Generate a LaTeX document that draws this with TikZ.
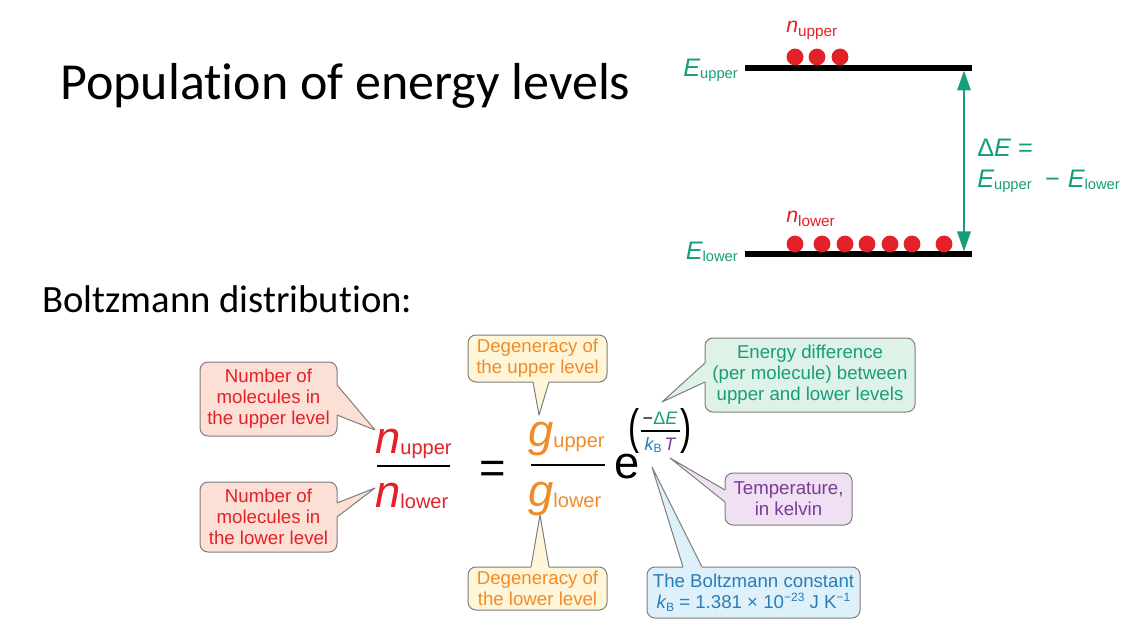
\documentclass[tikz,border=0pt]{standalone}
\usepackage{fontspec}
\usepackage{graphicx}
\setmainfont{Liberation Sans}
\newfontfamily\calib[Ligatures=NoCommon]{Carlito}
\usetikzlibrary{arrows.meta}
\definecolor{tred}{RGB}{228,32,40}
\definecolor{tgreen}{RGB}{22,158,122}
\definecolor{torange}{RGB}{240,140,40}
\definecolor{tpurple}{RGB}{120,60,150}
\definecolor{tblue}{RGB}{40,125,185}
\definecolor{fpink}{RGB}{252,224,214}
\definecolor{fyellow}{RGB}{255,246,218}
\definecolor{fgreen}{RGB}{222,242,231}
\definecolor{fpurple}{RGB}{240,224,243}
\definecolor{fblue}{RGB}{222,241,251}
\definecolor{bgray}{RGB}{125,125,125}
\newcommand{\fsz}[2]{\fontsize{#1}{#2}\selectfont\ignorespaces}
\newcommand{\pxl}{0.75pt}
\begin{document}
\begin{tikzpicture}[x=0.75pt,y=-0.75pt,
  every node/.style={inner sep=0pt},
  callout/.style={draw=bgray, line width=0.75pt, rounded corners=6pt, align=center, font=\fsz{14}{15.75}},
  bline/.style={draw=bgray, line width=0.75pt, line join=round},
  lvl/.style={line width=3.8pt},
  gtip/.tip={Triangle[length=15pt,width=10pt]}]
\fill[white] (0,0) rectangle (1130,634);
\useasboundingbox (0,0) rectangle (1130,634);

% titles
\node[anchor=base west] (title) at (60,100) {\calib\fsz{39}{39}Population of energy levels};
\node[anchor=base west] (bd) at (42,312) {\calib\fsz{29}{29}Boltzmann distribution:};

% energy level diagram
\draw[lvl] (745,68) -- (972,68);
\draw[lvl] (745,254) -- (972,254);
\node[anchor=base east, text=tgreen] (Eu) at (738,77) {\fsz{19}{19}\itshape E\upshape\raisebox{-1pt}{\fsz{11}{11}upper}};
\node[anchor=base east, text=tgreen] (El) at (738,260) {\fsz{19}{19}\itshape E\upshape\raisebox{-1pt}{\fsz{11}{11}lower}};
\foreach \x in {795,817,840} \fill[tred] (\x,57) circle[radius=6.3pt];
\foreach \x in {795,822,845,867,890,912,944} \fill[tred] (\x,244) circle[radius=6.3pt];
\node[anchor=base west, text=tred] (nu) at (786,33) {\fsz{16}{16}\itshape n\upshape\raisebox{-2.5pt}{\fsz{11.5}{11.5}upper}};
\node[anchor=base west, text=tred] (nl) at (786,223) {\fsz{16}{16}\itshape n\upshape\raisebox{-2.5pt}{\fsz{11.5}{11.5}lower}};
\coordinate (aT) at (964,70.5);
\coordinate (aB) at (964,251.5);
\draw[tgreen, line width=1.6pt, gtip-gtip] (aT) -- (aB);
\node[anchor=base west, text=tgreen] (dE) at (977,157) {\fsz{19}{19}Δ\itshape E\upshape\ =};
\node[anchor=base west, text=tgreen] (dE2) at (977,188) {\fsz{19}{19}\itshape E\upshape\raisebox{-1pt}{\fsz{11}{11}upper}\hspace{10pt}−\hspace{6pt}\itshape E\upshape\raisebox{-1pt}{\fsz{11}{11}lower}};

% Boltzmann equation
\node[anchor=base west, text=tred] (nU) at (375,453) {\fsz{34}{34}\itshape n\upshape\raisebox{-1pt}{\fsz{15}{15}upper}};
\node[anchor=base west, text=tred] (nL) at (375,507) {\fsz{34}{34}\itshape n\upshape\raisebox{-1pt}{\fsz{15}{15}lower}};
\draw[line width=1.5pt] (377,466) -- (450,466);
\node[anchor=base west] (eq) at (479,483) {\fsz{34}{34}=};
\node[anchor=base west, text=torange] (gU) at (528,446) {\fsz{34}{34}\itshape g\upshape\raisebox{-1pt}{\fsz{15}{15}upper}};
\node[anchor=base west, text=torange] (gL) at (528,506) {\fsz{34}{34}\itshape g\upshape\raisebox{-1pt}{\fsz{15}{15}lower}};
\draw[line width=1.5pt] (531,465) -- (605,465);
\node[anchor=base west] (ee) at (614,478) {\fsz{34}{34}e};
\node (lp) at (634,431) {\fsz{25}{25}\scalebox{1}[1.45]{(}};
\node (rp) at (686,431) {\fsz{25}{25}\scalebox{1}[1.45]{)}};
\node[anchor=base] (mdE) at (660,424) {\fsz{13.5}{13.5}−\textcolor{tgreen}{Δ\itshape E}};
\draw[line width=0.8pt] (641,431) -- (680,431);
\node[anchor=base] (kT) at (660,450) {\fsz{13.5}{13.5}\textcolor{tblue}{\itshape k\upshape\raisebox{-2pt}{\fsz{9}{9}B}}\hspace{2pt}\textcolor{tpurple}{\itshape T}};

% callouts
\node[callout, fill=fpink, text=tred, minimum width=137*\pxl, minimum height=74*\pxl] (c1) at (268.5,399) {Number of\\molecules in\\the upper level};
\node[callout, fill=fpink, text=tred, minimum width=137*\pxl, minimum height=70*\pxl] (c2) at (268.5,517) {Number of\\molecules in\\the lower level};
\node[callout, fill=fyellow, text=torange, minimum width=139*\pxl, minimum height=47*\pxl] (c3) at (537.5,358.5) {Degeneracy of\\the upper level};
\node[callout, fill=fyellow, text=torange, minimum width=139*\pxl, minimum height=43*\pxl] (c4) at (537.5,588.5) {Degeneracy of\\the lower level};
\node[callout, fill=fgreen, text=tgreen, minimum width=210*\pxl, minimum height=74*\pxl] (c5) at (810,375) {Energy difference\\(per molecule) between\\upper and lower levels};
\node[callout, fill=fpurple, text=tpurple, minimum width=127*\pxl, minimum height=52*\pxl] (c6) at (788.5,499) {Temperature,\\in kelvin};
\node[callout, fill=fblue, text=tblue, minimum width=213*\pxl, minimum height=51*\pxl] (c7) at (753.5,592.5) {The Boltzmann constant\\\itshape k\upshape\raisebox{-2pt}{\fsz{9}{9}B} = 1.381 × 10\raisebox{5pt}{\fsz{9}{9}−23} J K\raisebox{5pt}{\fsz{9}{9}−1}};

% pointer tips
\coordinate (t1) at (375,430);
\coordinate (t2) at (375,488);
\coordinate (t3) at (539,415);
\coordinate (t4) at (540,515);
\coordinate (t5) at (662,402);
\coordinate (t6) at (670,458);
\coordinate (t7) at (652,467);

% pointers
\fill[fpink] (337,385) -- (t1) -- (337,415) -- (334,415) -- (334,385) -- cycle;
\draw[bline] (337,385) -- (t1) -- (337,415);
\fill[fpink] (337,503) -- (t2) -- (337,517) -- (334,517) -- (334,503) -- cycle;
\draw[bline] (337,503) -- (t2) -- (337,517);
\fill[fyellow] (533,382) -- (t3) -- (549,382) -- (549,379) -- (533,379) -- cycle;
\draw[bline] (533,382) -- (t3) -- (549,382);
\fill[fyellow] (531,567) -- (t4) -- (549,567) -- (549,570) -- (531,570) -- cycle;
\draw[bline] (531,567) -- (t4) -- (549,567);
\fill[fgreen] (705,363) -- (t5) -- (705,382) -- (708,382) -- (708,363) -- cycle;
\draw[bline] (705,363) -- (t5) -- (705,382);
\fill[fpurple] (725,490) -- (t6) -- (725,502) -- (728,502) -- (728,490) -- cycle;
\draw[bline] (725,490) -- (t6) -- (725,502);
\fill[fblue] (683,567) -- (t7) -- (702,567) -- (702,570) -- (683,570) -- cycle;
\draw[bline] (683,567) -- (t7) -- (702,567);
\end{tikzpicture}
\end{document}
